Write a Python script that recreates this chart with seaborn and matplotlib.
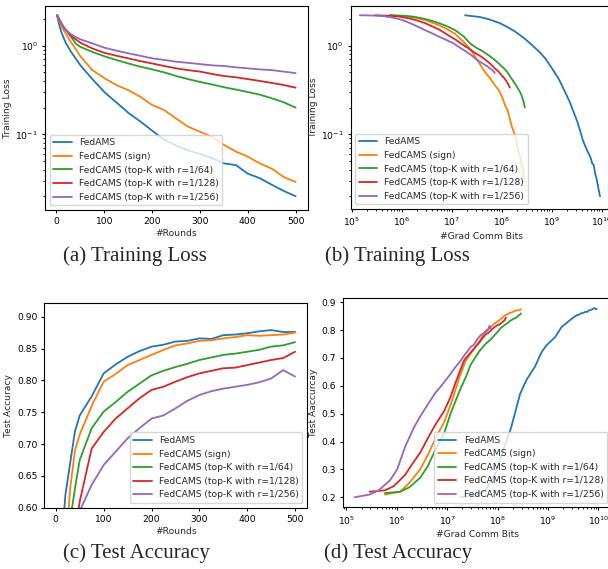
import numpy as np
import pandas as pd
import matplotlib
matplotlib.use('Agg')
import matplotlib.pyplot as plt
import seaborn as sns

# Métodos e cores (tab10)
metodos = ['FedAMS', 'FedCAMS (sign)', 'FedCAMS (top-K with r=1/64)',
           'FedCAMS (top-K with r=1/128)', 'FedCAMS (top-K with r=1/256)']
cores = sns.color_palette('tab10', 5)

rounds = [1, 2, 3, 5, 7, 10, 15, 20, 30, 40, 50, 75, 100, 125, 150, 175, 200,
          225, 250, 275, 300, 325, 350, 375, 400, 425, 450, 475, 500]

# bits de gradiente enviados por round
bits_por_round = [1.85e7, 5.8e5, 5.8e5, 2.9e5, 1.45e5]

# Training loss
loss_fedams = [2.2, 2.1, 1.98, 1.79, 1.62, 1.44, 1.22, 1.06, 0.86, 0.72, 0.60, 0.42, 0.30, 0.23, 0.175,
               0.14, 0.11, 0.087, 0.075, 0.066, 0.060, 0.054, 0.047, 0.045, 0.036, 0.032, 0.027, 0.023, 0.020]
loss_sign = [2.2, 2.15, 2.08, 1.95, 1.82, 1.68, 1.5, 1.36, 1.1, 0.92, 0.76, 0.53, 0.43, 0.36, 0.315,
             0.266, 0.214, 0.188, 0.151, 0.122, 0.107, 0.094, 0.076, 0.064, 0.056, 0.047, 0.041, 0.033, 0.029]
loss_top64 = [2.2, 2.17, 2.12, 2.0, 1.9, 1.78, 1.62, 1.5, 1.27, 1.06, 0.97, 0.85, 0.76, 0.69, 0.63,
              0.58, 0.54, 0.50, 0.455, 0.42, 0.39, 0.365, 0.34, 0.32, 0.30, 0.28, 0.255, 0.23, 0.20]
loss_top128 = [2.2, 2.17, 2.13, 2.02, 1.92, 1.8, 1.62, 1.5, 1.3, 1.18, 1.08, 0.93, 0.83, 0.77, 0.72,
               0.67, 0.63, 0.59, 0.555, 0.53, 0.51, 0.48, 0.455, 0.44, 0.42, 0.40, 0.38, 0.36, 0.336]
loss_top256 = [2.2, 2.18, 2.15, 2.05, 1.95, 1.8, 1.62, 1.5, 1.35, 1.25, 1.18, 1.06, 0.95, 0.88, 0.82,
               0.77, 0.72, 0.69, 0.66, 0.64, 0.62, 0.60, 0.59, 0.57, 0.555, 0.54, 0.53, 0.51, 0.49]

# Test accuracy
acc_fedams = [0.20, 0.21, 0.22, 0.29, 0.37, 0.45, 0.57, 0.62, 0.67, 0.72, 0.745, 0.775, 0.811, 0.825, 0.837,
              0.846, 0.853, 0.856, 0.861, 0.862, 0.866, 0.865, 0.871, 0.872, 0.874, 0.877, 0.879, 0.876, 0.876]
acc_sign = [0.21, 0.22, 0.25, 0.30, 0.35, 0.41, 0.47, 0.53, 0.63, 0.69, 0.715, 0.76, 0.798, 0.81, 0.824,
            0.832, 0.84, 0.848, 0.855, 0.858, 0.862, 0.863, 0.866, 0.868, 0.871, 0.870, 0.871, 0.872, 0.875]
acc_top64 = [0.215, 0.22, 0.235, 0.27, 0.31, 0.37, 0.43, 0.50, 0.58, 0.63, 0.675, 0.725, 0.751, 0.766, 0.782,
             0.795, 0.808, 0.815, 0.821, 0.826, 0.832, 0.836, 0.840, 0.842, 0.845, 0.848, 0.853, 0.855, 0.860]
acc_top128 = [0.22, 0.225, 0.24, 0.28, 0.32, 0.36, 0.42, 0.46, 0.51, 0.56, 0.61, 0.693, 0.719, 0.74, 0.756,
              0.772, 0.785, 0.79, 0.798, 0.805, 0.811, 0.815, 0.819, 0.82, 0.824, 0.828, 0.832, 0.835, 0.845]
acc_top256 = [0.20, 0.21, 0.225, 0.26, 0.30, 0.38, 0.45, 0.49, 0.54, 0.575, 0.595, 0.636, 0.667, 0.688, 0.709,
              0.725, 0.74, 0.745, 0.756, 0.768, 0.777, 0.783, 0.787, 0.79, 0.793, 0.797, 0.803, 0.816, 0.806]

losses = [loss_fedams, loss_sign, loss_top64, loss_top128, loss_top256]
accs = [acc_fedams, acc_sign, acc_top64, acc_top128, acc_top256]

sns.set_style('ticks')
plt.rcParams['font.family'] = ['DejaVu Sans']
plt.rcParams['font.size'] = 6.6
plt.rcParams['xtick.major.size'] = 2.5
plt.rcParams['ytick.major.size'] = 2.5
plt.rcParams['xtick.minor.size'] = 1.5
plt.rcParams['ytick.minor.size'] = 1.5
plt.rcParams['xtick.major.pad'] = 2.5
plt.rcParams['ytick.major.pad'] = 2.5
plt.rcParams['axes.labelpad'] = 2.5
plt.rcParams['axes.linewidth'] = 0.8
plt.rcParams['axes.edgecolor'] = 'black'
plt.rcParams['xtick.color'] = 'black'
plt.rcParams['ytick.color'] = 'black'

fig = plt.figure(figsize=(6.08, 5.69), dpi=100)
ax_a = fig.add_axes([0.0740, 0.6309, 0.4319, 0.3585])
ax_b = fig.add_axes([0.5765, 0.6327, 0.4301, 0.3573])
ax_c = fig.add_axes([0.0729, 0.1077, 0.4321, 0.3592])
ax_d = fig.add_axes([0.5646, 0.1084, 0.4419, 0.3673])

for i, nome in enumerate(metodos):
    bits = [r * bits_por_round[i] for r in rounds]
    sns.lineplot(x=rounds, y=losses[i], ax=ax_a, color=cores[i], label=nome, lw=1.3)
    sns.lineplot(x=bits, y=losses[i], ax=ax_b, color=cores[i], label=nome, lw=1.3)
    sns.lineplot(x=rounds, y=accs[i], ax=ax_c, color=cores[i], label=nome, lw=1.3)
    sns.lineplot(x=bits, y=accs[i], ax=ax_d, color=cores[i], label=nome, lw=1.3)

# (a) loss x rounds
ax_a.set_yscale('log')
ax_a.set_ylim(0.0140, 2.80)
ax_a.set_xlim(-24, 525)
ax_a.set_xlabel('#Rounds')
ax_a.set_ylabel('Training Loss')
ax_a.legend(loc='lower left', fontsize=6.6)

# (b) loss x bits
ax_b.set_xscale('log')
ax_b.set_yscale('log')
ax_b.set_xlim(10 ** 4.976, 10 ** 10.206)
ax_b.set_ylim(0.0144, 2.82)
ax_b.set_xlabel('#Grad Comm Bits')
ax_b.set_ylabel('Training Loss')
ax_b.legend(loc='lower left', fontsize=6.6)

# (c) acc x rounds
ax_c.set_ylim(0.60, 0.921)
ax_c.set_xlim(-24, 525)
ax_c.set_xlabel('#Rounds')
ax_c.set_ylabel('Test Accuracy')
ax_c.legend(loc='lower right', fontsize=6.6)

# (d) acc x bits
ax_d.set_xscale('log')
ax_d.set_xlim(10 ** 4.937, 10 ** 10.268)
ax_d.set_ylim(0.164, 0.914)
ax_d.set_xlabel('#Grad Comm Bits')
ax_d.set_ylabel('Test Aaccurcay')
ax_d.legend(loc='lower right', fontsize=6.6)

# legendas das figuras
fonte_cap = dict(family='Liberation Serif', fontsize=15, ha='center', va='center')
fig.text(0.222, 0.549, '(a) Training Loss', **fonte_cap)
fig.text(0.654, 0.549, '(b) Training Loss', **fonte_cap)
fig.text(0.224, 0.028, '(c) Test Accuracy', **fonte_cap)
fig.text(0.655, 0.028, '(d) Test Accuracy', **fonte_cap)

fig.savefig('out.png', dpi=100)
